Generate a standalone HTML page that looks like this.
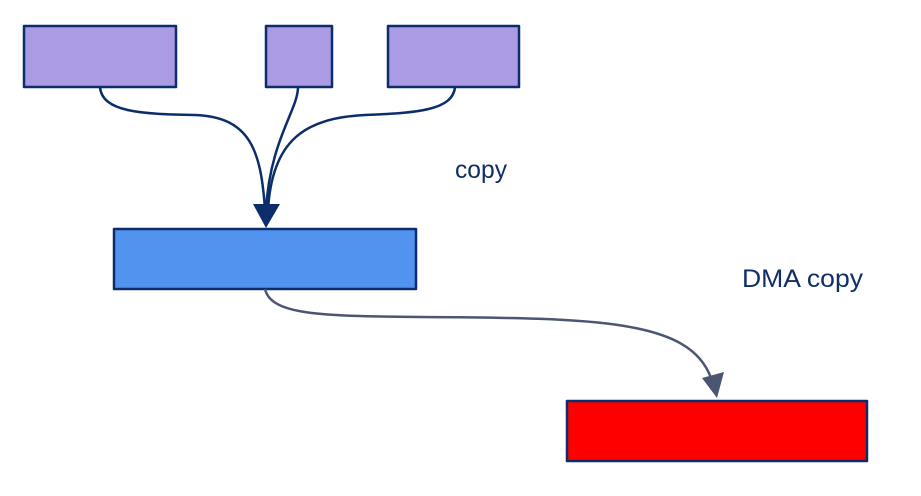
<!DOCTYPE html>
<html><head><style>
html,body{margin:0;padding:0;background:#fff;}
svg{display:block;}
text{font-family:"Liberation Sans",sans-serif;fill:#0f2f66;font-size:25px;}
</style></head><body>
<svg width="921" height="496" viewBox="0 0 921 496" xmlns="http://www.w3.org/2000/svg">
<g stroke="#0b2e6b" stroke-width="2.5" stroke-linejoin="round">
<rect x="24" y="26" width="152" height="61" fill="#ab9ae4"/>
<rect x="266" y="26" width="66" height="61" fill="#ab9ae4"/>
<rect x="388" y="26" width="131" height="61" fill="#ab9ae4"/>
<rect x="114" y="229" width="302" height="60" fill="#5293f0"/>
<rect x="567" y="401" width="300" height="60" fill="#ff0000"/>
</g>
<g fill="none" stroke="#0b2e6b" stroke-width="2.5">
<path d="M100 87 C102 112 140 114 195 115 C250 117 261 150 265 210"/>
<path d="M298 87 C298 110 270 140 266 210"/>
<path d="M455 87 C453 110 418 113 365 115 C305 118 272 140 268 210"/>
</g>
<polygon points="253,204 280,204 266,228" fill="#0b2e6b"/>
<path d="M265 289 C271 315 320 316 420 317 C600 318 690 320 711 378" fill="none" stroke="#4a5672" stroke-width="2.5"/>
<polygon points="702,378 724,372 717,398" fill="#4a5672"/>
<text x="455" y="178" textLength="52" lengthAdjust="spacingAndGlyphs">copy</text>
<text x="742" y="287" textLength="121" lengthAdjust="spacingAndGlyphs">DMA copy</text>
</svg>
</body></html>
